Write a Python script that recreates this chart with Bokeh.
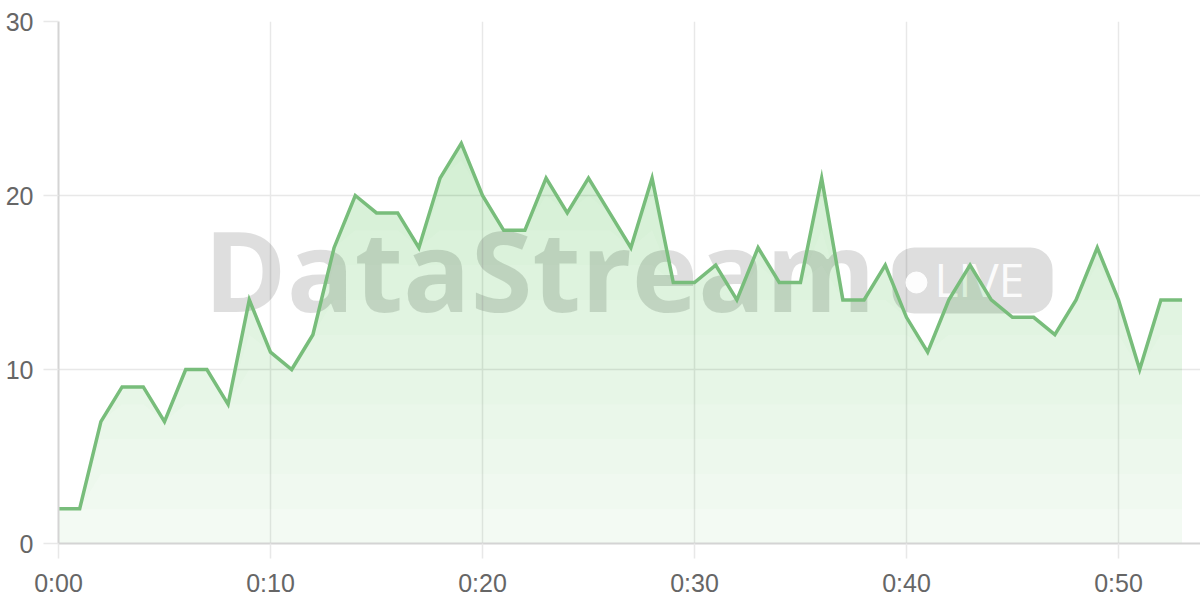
import numpy as np
from bokeh.plotting import figure
from bokeh.models import Range1d, FixedTicker, BoxAnnotation, Label
from bokeh.embed import file_html
from bokeh.resources import INLINE

# one reading per minute
minutes = list(range(54))
viewers = [2, 2, 7, 9, 9, 7, 10, 10, 8, 14,
           11, 10, 12, 17, 20, 19, 19, 17, 21, 23,
           20, 18, 18, 21, 19, 21, 19, 17, 21, 15,
           15, 16, 14, 17, 15, 15, 21, 14, 14, 16,
           13, 11, 14, 16, 14, 13, 13, 12, 14, 17,
           14, 10, 14, 14]

x_ticks = [0, 10, 20, 30, 40, 50]
x_tick_labels = ["0:00", "0:10", "0:20", "0:30", "0:40", "0:50"]
y_ticks = [0, 10, 20, 30]

LINE = "#78bd7b"
FILL = "#4caf50"
GRID = "#e8e8e8"
LABEL = "#666666"
FONT = "Liberation Sans"

p = figure(width=1200, height=600, output_backend="svg", toolbar_location=None,
           tools="", x_range=Range1d(0, 53.87), y_range=Range1d(0, 30),
           min_border_left=58, min_border_right=0, min_border_top=21,
           min_border_bottom=57)
p.outline_line_color = None
p.background_fill_color = "white"

for ax in (p.xaxis[0], p.yaxis[0]):
    ax.axis_line_color = "#d4d4d4"
    ax.axis_line_width = 2
    ax.major_tick_line_color = GRID
    ax.major_tick_line_width = 1.5
    ax.major_tick_out = 15
    ax.major_tick_in = 0
    ax.minor_tick_line_color = None
    ax.major_label_text_color = LABEL
    ax.major_label_text_font = FONT
    ax.major_label_text_font_size = "25px"
    ax.major_label_standoff = 10

p.xaxis.ticker = FixedTicker(ticks=x_ticks)
p.xaxis.major_label_overrides = dict(zip(x_ticks, x_tick_labels))
p.yaxis.ticker = FixedTicker(ticks=y_ticks)

p.grid.grid_line_color = GRID
p.grid.grid_line_width = 1.5

# watermark, kept underneath the data
p.add_layout(Label(x=22.7, y=15.8, text="DataStream", text_align="center",
                   text_baseline="middle", text_font="Open Sans",
                   text_font_style="bold", text_font_size="112px",
                   text_color="black", text_alpha=0.13, level="underlay"))
p.add_layout(BoxAnnotation(left=39.34, right=46.89, bottom=13.22, top=17.01,
                           fill_color="black", fill_alpha=0.13,
                           line_color=None, border_radius=22, level="underlay"))
p.add_layout(Label(x=41.32, y=15.2, text="LIVE", text_align="left",
                   text_baseline="middle", text_font="Open Sans",
                   text_font_size="46px", text_color="white", text_alpha=0.92,
                   level="underlay"))

# vertical gradient fill under the line, built from stacked translucent bands
vals = np.array(viewers, dtype=float)
p.varea(x=minutes, y1=0, y2=vals, fill_color=FILL, fill_alpha=0.05)
for lo in range(0, 30, 2):
    p.varea(x=minutes, y1=np.minimum(vals, lo), y2=vals,
            fill_color=FILL, fill_alpha=0.017)

p.scatter(x=[40.47], y=[15.0], size=21, color="white", alpha=0.92)

p.line(x=minutes, y=viewers, line_color=LINE, line_width=3.5,
       line_join="miter")

open("out.html", "w").write(file_html(p, INLINE))
